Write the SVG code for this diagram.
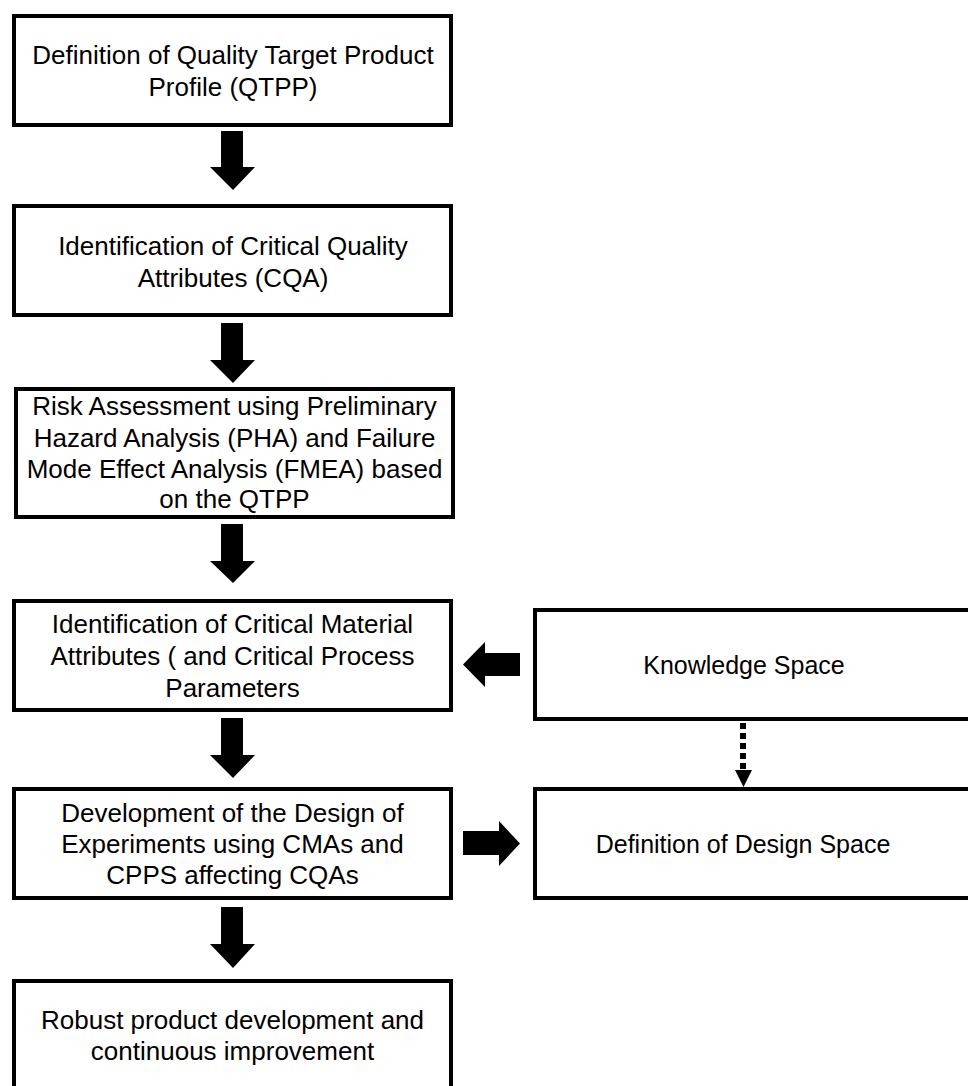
<svg xmlns="http://www.w3.org/2000/svg" width="968" height="1086" viewBox="0 0 968 1086">
<style>
.box{fill:#fff;stroke:#000;stroke-width:4}
.t{font-family:"Liberation Sans",Arial,sans-serif;font-size:26px;fill:#000;text-anchor:middle}
.r{font-size:25px}
.arr{fill:#000}
</style>
<rect width="968" height="1086" fill="#fff"/>
<g id="connectors">
<path class="arr" d="M221,131 H243 V167 H255 L233,190 L210,167 H221 Z"/>
<path class="arr" d="M221,323 H243 V360 H255 L233,383 L210,360 H221 Z"/>
<path class="arr" d="M221,524 H243 V561 H255 L233,583 L210,561 H221 Z"/>
<path class="arr" d="M221,718 H243 V755 H255 L233,778 L210,755 H221 Z"/>
<path class="arr" d="M221,907 H243 V944 H255 L233,968 L210,944 H221 Z"/>
<path class="arr" d="M520,653 V676 H485 V687 L463,664.5 L485,642 V653 Z"/>
<path class="arr" d="M463,831 H499 V821 L520,843.5 L499,866 V855 H463 Z"/>
<line x1="743" y1="723" x2="743" y2="770" stroke="#000" stroke-width="6" stroke-dasharray="6 4"/>
<path class="arr" d="M735,770 H752 L743.5,787 Z"/>
</g>
<g id="n1"><rect class="box" x="14" y="16" width="437" height="109"/>
<text class="t" x="233" y="64">Definition of Quality Target Product</text>
<text class="t" x="233" y="96">Profile (QTPP)</text></g>
<g id="n2"><rect class="box" x="14" y="206" width="437" height="109"/>
<text class="t" x="233" y="255">Identification of Critical Quality</text>
<text class="t" x="233" y="287">Attributes (CQA)</text></g>
<g id="n3"><rect class="box" x="16" y="389" width="437" height="128"/>
<text class="t" x="234.5" y="415">Risk Assessment using Preliminary</text>
<text class="t" x="234.5" y="447">Hazard Analysis (PHA) and Failure</text>
<text class="t" x="234.5" y="478">Mode Effect Analysis (FMEA) based</text>
<text class="t" x="234.5" y="508">on the QTPP</text></g>
<g id="n4"><rect class="box" x="14" y="601" width="437" height="109"/>
<text class="t" x="232.5" y="633">Identification of Critical Material</text>
<text class="t" x="232.5" y="665">Attributes ( and Critical Process</text>
<text class="t" x="232.5" y="697">Parameters</text></g>
<g id="n5"><rect class="box" x="14" y="789" width="437" height="109"/>
<text class="t" x="232.5" y="822">Development of the Design of</text>
<text class="t" x="232.5" y="853">Experiments using CMAs and</text>
<text class="t" x="232.5" y="884">CPPS affecting CQAs</text></g>
<g id="n6"><rect class="box" x="14" y="981" width="437" height="130"/>
<text class="t" x="232.5" y="1029">Robust product development and</text>
<text class="t" x="232.5" y="1060">continuous improvement</text></g>
<g id="n7"><rect class="box" x="535" y="610" width="500" height="109"/>
<text class="t r" x="744" y="674">Knowledge Space</text></g>
<g id="n8"><rect class="box" x="535" y="789" width="500" height="109"/>
<text class="t r" x="743" y="853">Definition of Design Space</text></g>
</svg>
